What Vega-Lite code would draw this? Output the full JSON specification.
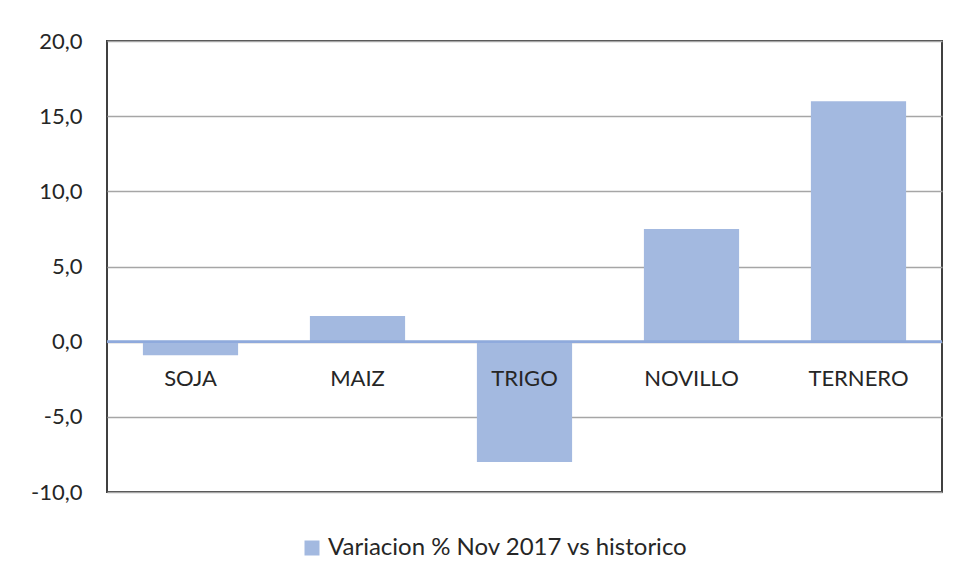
{
  "$schema": "https://vega.github.io/schema/vega-lite/v6.json",
  "width": 835,
  "height": 451,
  "autosize": {"type": "none"},
  "padding": {"left": 107, "top": 41, "right": 18, "bottom": 89},
  "background": "white",
  "config": {
    "view": {"stroke": "#404040", "strokeWidth": 2},
    "font": "Lato"
  },
  "data": {
    "values": [
      {"producto": "SOJA", "variacion": -0.9, "serie": "Variacion % Nov 2017 vs historico"},
      {"producto": "MAIZ", "variacion": 1.7, "serie": "Variacion % Nov 2017 vs historico"},
      {"producto": "TRIGO", "variacion": -8.0, "serie": "Variacion % Nov 2017 vs historico"},
      {"producto": "NOVILLO", "variacion": 7.5, "serie": "Variacion % Nov 2017 vs historico"},
      {"producto": "TERNERO", "variacion": 16.0, "serie": "Variacion % Nov 2017 vs historico"}
    ]
  },
  "layer": [
    {
      "mark": {"type": "bar"},
      "encoding": {
        "x": {
          "field": "producto",
          "type": "nominal",
          "sort": null,
          "scale": {"paddingInner": 0.43, "paddingOuter": 0.215},
          "axis": {
            "orient": "bottom",
            "offset": -150.3,
            "domain": false,
            "ticks": false,
            "tickSize": 0,
            "labelPadding": 27,
            "labelBaseline": "top",
            "labelAngle": 0,
            "labelFont": "Lato",
            "labelFontSize": 22,
            "labelColor": "#262626",
            "title": null,
            "zindex": 1
          }
        },
        "y": {
          "field": "variacion",
          "type": "quantitative",
          "scale": {"domain": [-10, 20], "nice": false},
          "axis": {
            "values": [-10, -5, 0, 5, 10, 15, 20],
            "labelExpr": "replace(replace(format(datum.value, '.1f'), '.', ','), '\u2212', '-')",
            "domain": false,
            "ticks": false,
            "tickSize": 0,
            "labelPadding": 25,
            "labelFont": "Lato",
            "labelFontSize": 22,
            "labelColor": "#262626",
            "gridColor": "#A6A6A6",
            "gridWidth": 1.5,
            "title": null
          }
        },
        "color": {
          "field": "serie",
          "type": "nominal",
          "scale": {"range": ["#A3B9E0"]},
          "legend": {
            "orient": "none",
            "legendX": 193,
            "legendY": 495,
            "title": null,
            "symbolType": "square",
            "symbolSize": 225,
            "symbolStrokeWidth": 0,
            "labelFont": "Lato",
            "labelFontSize": 24,
            "labelColor": "#262626",
            "labelOffset": 4,
            "labelLimit": 600
          }
        }
      }
    },
    {
      "mark": {"type": "rule", "color": "#8FAADC", "strokeWidth": 2},
      "encoding": {"y": {"datum": 0, "type": "quantitative"}}
    }
  ]
}
